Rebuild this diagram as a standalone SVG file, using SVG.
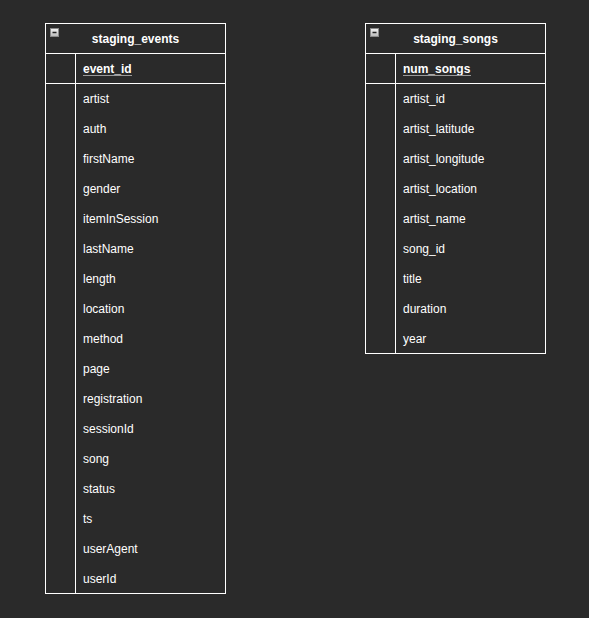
<svg xmlns="http://www.w3.org/2000/svg" width="589" height="618" viewBox="0 0 589 618">
<style>
.bg{fill:#2a2a2a}
.box{fill:#2a2a2a;stroke:#ffffff;stroke-width:1}
.ln{stroke:#ffffff;stroke-width:1;fill:none}
.t{font-family:"Liberation Sans",Arial,sans-serif;font-size:12px;fill:#ffffff}
.h{font-weight:bold;text-anchor:middle}
.k{font-weight:bold}
.ul{stroke:#9a9a9a;stroke-width:1}
.ic{fill:#d8d8d8;stroke:#8a8a8a;stroke-width:1}
.icm{stroke:#222;stroke-width:1.5}
</style>
<defs>
<linearGradient id="g" x1="0" y1="0" x2="0" y2="1"><stop offset="0" stop-color="#f4f4f4"/><stop offset="1" stop-color="#b8b8b8"/></linearGradient>
</defs>
<rect class="bg" x="0" y="0" width="589" height="618"/>
<g id="staging_events">
<rect class="box" x="45.5" y="23.5" width="180" height="570"/>
<line class="ln" x1="45.5" y1="53.5" x2="225.5" y2="53.5"/>
<line class="ln" x1="45.5" y1="83.5" x2="225.5" y2="83.5"/>
<line class="ln" x1="75.5" y1="53.5" x2="75.5" y2="593.5"/>
<rect x="50.5" y="28.5" width="8" height="8" fill="url(#g)" stroke="#8a8a8a"/>
<line class="icm" x1="52.5" y1="32.5" x2="56.5" y2="32.5"/>
<text class="t h" x="135.5" y="43">staging_events</text>
<text class="t k" x="83" y="73">event_id</text>
<line class="ul" x1="83" y1="75.5" x2="132" y2="75.5"/>
<text class="t" x="83" y="103">artist</text>
<text class="t" x="83" y="133">auth</text>
<text class="t" x="83" y="163">firstName</text>
<text class="t" x="83" y="193">gender</text>
<text class="t" x="83" y="223">itemInSession</text>
<text class="t" x="83" y="253">lastName</text>
<text class="t" x="83" y="283">length</text>
<text class="t" x="83" y="313">location</text>
<text class="t" x="83" y="343">method</text>
<text class="t" x="83" y="373">page</text>
<text class="t" x="83" y="403">registration</text>
<text class="t" x="83" y="433">sessionId</text>
<text class="t" x="83" y="463">song</text>
<text class="t" x="83" y="493">status</text>
<text class="t" x="83" y="523">ts</text>
<text class="t" x="83" y="553">userAgent</text>
<text class="t" x="83" y="583">userId</text>
</g>
<g id="staging_songs">
<rect class="box" x="365.5" y="23.5" width="180" height="330"/>
<line class="ln" x1="365.5" y1="53.5" x2="545.5" y2="53.5"/>
<line class="ln" x1="365.5" y1="83.5" x2="545.5" y2="83.5"/>
<line class="ln" x1="395.5" y1="53.5" x2="395.5" y2="353.5"/>
<rect x="370.5" y="28.5" width="8" height="8" fill="url(#g)" stroke="#8a8a8a"/>
<line class="icm" x1="372.5" y1="32.5" x2="376.5" y2="32.5"/>
<text class="t h" x="455.5" y="43">staging_songs</text>
<text class="t k" x="403" y="73">num_songs</text>
<line class="ul" x1="403" y1="75.5" x2="471" y2="75.5"/>
<text class="t" x="403" y="103">artist_id</text>
<text class="t" x="403" y="133">artist_latitude</text>
<text class="t" x="403" y="163">artist_longitude</text>
<text class="t" x="403" y="193">artist_location</text>
<text class="t" x="403" y="223">artist_name</text>
<text class="t" x="403" y="253">song_id</text>
<text class="t" x="403" y="283">title</text>
<text class="t" x="403" y="313">duration</text>
<text class="t" x="403" y="343">year</text>
</g>
<g id="connectors"></g>
</svg>
